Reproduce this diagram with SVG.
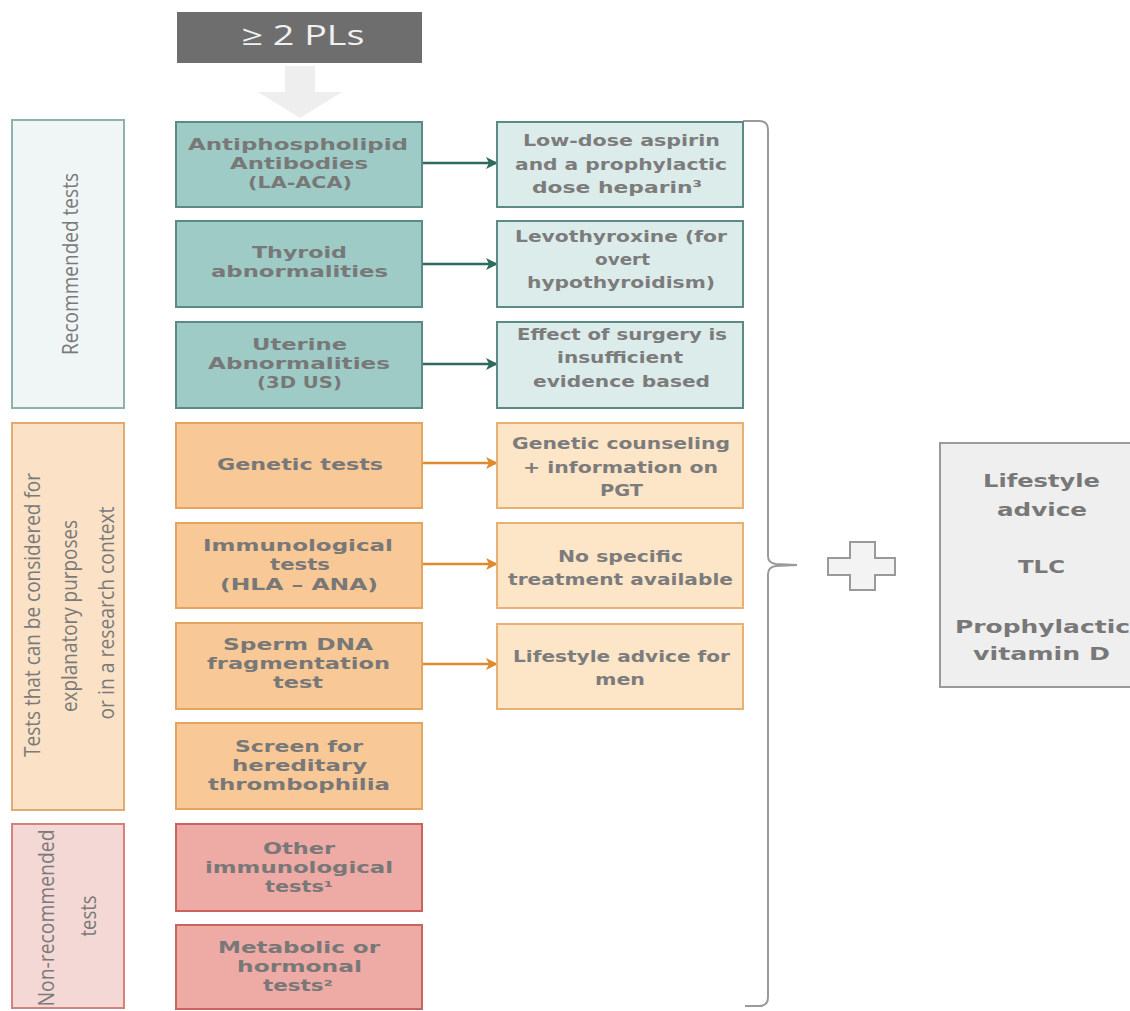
<svg xmlns="http://www.w3.org/2000/svg" width="1130" height="1011" viewBox="0 0 1130 1011">
<style>
  text { font-family: "Open Sans", "DejaVu Sans", sans-serif; text-anchor: middle; }
  .t { font-family: "DejaVu Sans", sans-serif; font-size: 16px; font-weight: 700; fill: #787878; }
  .r { font-family: "DejaVu Sans", sans-serif; font-size: 16.5px; font-weight: 700; fill: #7c7c7c; }
  .v { font-size: 21px; font-weight: 400; fill: #7a7a7a; }
  .teal { fill: #9ecbc5; stroke: #5b8b84; stroke-width: 2; }
  .tealT { fill: #dcecea; stroke: #5b8b84; stroke-width: 2; }
  .tealC { fill: #f0f6f6; stroke: #8fb2ae; stroke-width: 2; }
  .org { fill: #f8c997; stroke: #e6a461; stroke-width: 2; }
  .orgT { fill: #fde5c8; stroke: #e9b074; stroke-width: 2; }
  .orgC { fill: #fbe2c7; stroke: #e2aa73; stroke-width: 2; }
  .red { fill: #eeaaa4; stroke: #c8645d; stroke-width: 2; }
  .redC { fill: #f4d8d5; stroke: #d3837c; stroke-width: 2; }
  .ca { stroke: #2e6a5d; stroke-width: 2.5; fill: none; }
  .oa { stroke: #e08a30; stroke-width: 2.5; fill: none; }
</style>
<defs>
  <marker id="mt" markerWidth="12" markerHeight="12" refX="11" refY="6" orient="auto" markerUnits="userSpaceOnUse">
    <path d="M0,0 L12,6 L0,12 L3,6 Z" fill="#2e6a5d"/>
  </marker>
  <marker id="mo" markerWidth="12" markerHeight="12" refX="11" refY="6" orient="auto" markerUnits="userSpaceOnUse">
    <path d="M0,0 L12,6 L0,12 L3,6 Z" fill="#e08a30"/>
  </marker>
</defs>
<rect width="1130" height="1011" fill="#ffffff"/>

<g id="start">
  <rect x="177" y="12" width="245" height="51" fill="#6e6e6e"/>
  <text x="303" y="45" style="font-size:27px;font-weight:400;fill:#f0f0f0" textLength="123" lengthAdjust="spacingAndGlyphs">≥ 2 PLs</text>
</g>

<g id="connectors">
  <polygon points="285,66 315,66 315,92 342,92 300,118 258,92 285,92" fill="#eeeeee"/>
  <line class="ca" x1="422" y1="163" x2="497" y2="163" marker-end="url(#mt)"/>
  <line class="ca" x1="422" y1="264" x2="497" y2="264" marker-end="url(#mt)"/>
  <line class="ca" x1="422" y1="364" x2="497" y2="364" marker-end="url(#mt)"/>
  <line class="oa" x1="422" y1="463" x2="497" y2="463" marker-end="url(#mo)"/>
  <line class="oa" x1="422" y1="564" x2="497" y2="564" marker-end="url(#mo)"/>
  <line class="oa" x1="422" y1="664" x2="497" y2="664" marker-end="url(#mo)"/>
  <path d="M743 121 H759 Q768 121 768 130 V556 Q768 563 776 564 L797 565 L776 566 Q768 567 768 574 V997 Q768 1006 759 1006 H745" fill="none" stroke="#9a9a9a" stroke-width="2"/>
</g>

<g id="cat-recommended">
  <rect class="tealC" x="12" y="120" width="112" height="288"/>
  <text class="v" transform="translate(78,264) rotate(-90)" textLength="182" lengthAdjust="spacingAndGlyphs">Recommended tests</text>
</g>
<g id="cat-explanatory">
  <rect class="orgC" x="12" y="423" width="112" height="387"/>
  <text class="v" transform="translate(40,615) rotate(-90)" textLength="284" lengthAdjust="spacingAndGlyphs">Tests that can be considered for</text>
  <text class="v" transform="translate(77,616) rotate(-90)" textLength="192" lengthAdjust="spacingAndGlyphs">explanatory purposes</text>
  <text class="v" transform="translate(114,613) rotate(-90)" textLength="213" lengthAdjust="spacingAndGlyphs">or in a research context</text>
</g>
<g id="cat-nonrecommended">
  <rect class="redC" x="12" y="824" width="112" height="184"/>
  <text class="v" transform="translate(54,918) rotate(-90)" textLength="177" lengthAdjust="spacingAndGlyphs">Non-recommended</text>
  <text class="v" transform="translate(96,916) rotate(-90)" textLength="41" lengthAdjust="spacingAndGlyphs">tests</text>
</g>

<g id="test-apl">
  <rect class="teal" x="176" y="122" width="246" height="85"/>
  <text class="t" x="298" y="150" textLength="220" lengthAdjust="spacingAndGlyphs">Antiphospholipid</text>
  <text class="t" x="299" y="169" textLength="138" lengthAdjust="spacingAndGlyphs">Antibodies</text>
  <text class="t" x="300" y="188" textLength="104" lengthAdjust="spacingAndGlyphs">(LA-ACA)</text>
</g>
<g id="test-thyroid">
  <rect class="teal" x="176" y="221" width="246" height="86"/>
  <text class="t" x="299.5" y="258" textLength="95" lengthAdjust="spacingAndGlyphs">Thyroid</text>
  <text class="t" x="299.5" y="277" textLength="177" lengthAdjust="spacingAndGlyphs">abnormalities</text>
</g>
<g id="test-uterine">
  <rect class="teal" x="176" y="322" width="246" height="86"/>
  <text class="t" x="299.5" y="350" textLength="95" lengthAdjust="spacingAndGlyphs">Uterine</text>
  <text class="t" x="299" y="369" textLength="182" lengthAdjust="spacingAndGlyphs">Abnormalities</text>
  <text class="t" x="299.5" y="388" textLength="85" lengthAdjust="spacingAndGlyphs">(3D US)</text>
</g>

<g id="tr-aspirin">
  <rect class="tealT" x="497" y="122" width="246" height="85"/>
  <text class="r" x="621.5" y="146" textLength="197" lengthAdjust="spacingAndGlyphs">Low-dose aspirin</text>
  <text class="r" x="621" y="170" textLength="212" lengthAdjust="spacingAndGlyphs">and a prophylactic</text>
  <text class="r" x="617" y="193" textLength="170" lengthAdjust="spacingAndGlyphs">dose heparin³</text>
</g>
<g id="tr-levo">
  <rect class="tealT" x="497" y="221" width="246" height="86"/>
  <text class="r" x="621" y="242" textLength="212" lengthAdjust="spacingAndGlyphs">Levothyroxine (for</text>
  <text class="r" x="622.5" y="265" textLength="55" lengthAdjust="spacingAndGlyphs">overt</text>
  <text class="r" x="621" y="288" textLength="188" lengthAdjust="spacingAndGlyphs">hypothyroidism)</text>
</g>
<g id="tr-surgery">
  <rect class="tealT" x="497" y="322" width="246" height="86"/>
  <text class="r" x="622" y="340" textLength="210" lengthAdjust="spacingAndGlyphs">Effect of surgery is</text>
  <text class="r" x="620" y="363" textLength="126" lengthAdjust="spacingAndGlyphs">insufficient</text>
  <text class="r" x="621.5" y="387" textLength="177" lengthAdjust="spacingAndGlyphs">evidence based</text>
</g>

<g id="test-genetic">
  <rect class="org" x="176" y="423" width="246" height="85"/>
  <text class="t" x="300" y="470" textLength="166" lengthAdjust="spacingAndGlyphs">Genetic tests</text>
</g>
<g id="test-immuno">
  <rect class="org" x="176" y="523" width="246" height="85"/>
  <text class="t" x="298" y="551" textLength="190" lengthAdjust="spacingAndGlyphs">Immunological</text>
  <text class="t" x="300" y="570" textLength="60" lengthAdjust="spacingAndGlyphs">tests</text>
  <text class="t" x="299" y="590" textLength="158" lengthAdjust="spacingAndGlyphs">(HLA – ANA)</text>
</g>
<g id="test-sperm">
  <rect class="org" x="176" y="623" width="246" height="86"/>
  <text class="t" x="298" y="650" textLength="150" lengthAdjust="spacingAndGlyphs">Sperm DNA</text>
  <text class="t" x="298.5" y="669" textLength="183" lengthAdjust="spacingAndGlyphs">fragmentation</text>
  <text class="t" x="298" y="688" textLength="50" lengthAdjust="spacingAndGlyphs">test</text>
</g>
<g id="test-thrombo">
  <rect class="org" x="176" y="723" width="246" height="86"/>
  <text class="t" x="299" y="752" textLength="128" lengthAdjust="spacingAndGlyphs">Screen for</text>
  <text class="t" x="299.5" y="771" textLength="135" lengthAdjust="spacingAndGlyphs">hereditary</text>
  <text class="t" x="299" y="790" textLength="182" lengthAdjust="spacingAndGlyphs">thrombophilia</text>
</g>

<g id="tr-counsel">
  <rect class="orgT" x="497" y="423" width="246" height="85"/>
  <text class="r" x="621" y="449" textLength="218" lengthAdjust="spacingAndGlyphs">Genetic counseling</text>
  <text class="r" x="620.5" y="473" textLength="195" lengthAdjust="spacingAndGlyphs">+ information on</text>
  <text class="r" x="621.5" y="496" textLength="43" lengthAdjust="spacingAndGlyphs">PGT</text>
</g>
<g id="tr-nospecific">
  <rect class="orgT" x="497" y="523" width="246" height="85"/>
  <text class="r" x="620.5" y="562" textLength="125" lengthAdjust="spacingAndGlyphs">No specific</text>
  <text class="r" x="620.5" y="585" textLength="225" lengthAdjust="spacingAndGlyphs">treatment available</text>
</g>
<g id="tr-men">
  <rect class="orgT" x="497" y="624" width="246" height="85"/>
  <text class="r" x="621.5" y="662" textLength="217" lengthAdjust="spacingAndGlyphs">Lifestyle advice for</text>
  <text class="r" x="620" y="685" textLength="50" lengthAdjust="spacingAndGlyphs">men</text>
</g>

<g id="test-otherimmuno">
  <rect class="red" x="176" y="824" width="246" height="87"/>
  <text class="t" x="299" y="854" textLength="72" lengthAdjust="spacingAndGlyphs">Other</text>
  <text class="t" x="299" y="873" textLength="188" lengthAdjust="spacingAndGlyphs">immunological</text>
  <text class="t" x="299" y="892" textLength="68" lengthAdjust="spacingAndGlyphs">tests¹</text>
</g>
<g id="test-metabolic">
  <rect class="red" x="176" y="925" width="246" height="84"/>
  <text class="t" x="299" y="953" textLength="162" lengthAdjust="spacingAndGlyphs">Metabolic or</text>
  <text class="t" x="299.5" y="972" textLength="125" lengthAdjust="spacingAndGlyphs">hormonal</text>
  <text class="t" x="298" y="991" textLength="70" lengthAdjust="spacingAndGlyphs">tests²</text>
</g>

<g id="plus">
  <path d="M850 542 H875 V558 H895 V575 H875 V590 H850 V575 H828 V558 H850 Z" fill="#f3f3f3" stroke="#9a9a9a" stroke-width="2"/>
</g>

<g id="lifestyle">
  <rect x="940" y="443" width="210" height="244" fill="#efefef" stroke="#9a9a9a" stroke-width="2"/>
  <text class="t" x="1041.5" y="487" textLength="117" lengthAdjust="spacingAndGlyphs" style="font-size:18px">Lifestyle</text>
  <text class="t" x="1042" y="516" textLength="90" lengthAdjust="spacingAndGlyphs" style="font-size:18px">advice</text>
  <text class="t" x="1041.5" y="573" textLength="47" lengthAdjust="spacingAndGlyphs" style="font-size:18px">TLC</text>
  <text class="t" x="1042.5" y="633" textLength="175" lengthAdjust="spacingAndGlyphs" style="font-size:18px">Prophylactic</text>
  <text class="t" x="1041.5" y="660" textLength="137" lengthAdjust="spacingAndGlyphs" style="font-size:18px">vitamin D</text>
</g>
</svg>
